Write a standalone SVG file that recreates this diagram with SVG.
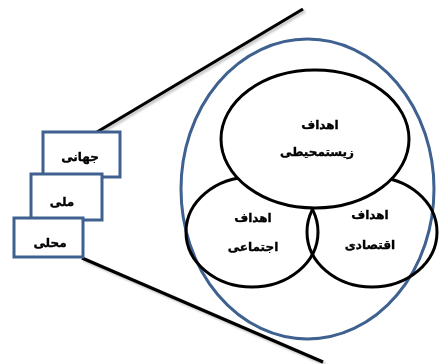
<svg xmlns="http://www.w3.org/2000/svg" width="444" height="364" viewBox="0 0 444 364">
<defs>
<style>
.box rect{fill:#fff;stroke:#3e6190;stroke-width:3}
.goal ellipse{fill:none;stroke:#000;stroke-width:3}
.lbl{font-family:"DejaVu Sans",sans-serif;font-weight:bold;font-size:12px;fill:#000;stroke:#000;stroke-width:0.35;text-anchor:middle;direction:rtl}
.conn line{stroke:#000;stroke-width:3.2;stroke-linecap:butt}
.shadow line{stroke:#999;stroke-width:3;opacity:0.6}
</style>
<filter id="blur" x="-10%" y="-10%" width="120%" height="120%"><feGaussianBlur stdDeviation="1.2"/></filter>
</defs>
<rect width="444" height="364" fill="#fff"/>
<g id="connectors">
<g class="shadow" filter="url(#blur)">
<line x1="99" y1="134" x2="305" y2="11"/>
<line x1="84" y1="260" x2="325" y2="364"/>
</g>
<g class="conn">
<line x1="97" y1="132" x2="303" y2="9"/>
<line x1="82" y1="258" x2="323" y2="362"/>
</g>
</g>
<g id="scope-outline">
<ellipse cx="307.5" cy="189" rx="126.5" ry="150" fill="none" stroke="#3e6190" stroke-width="3"/>
</g>
<g id="social" class="goal">
<ellipse cx="252" cy="232" rx="66" ry="55"/>
<text class="lbl" x="253" y="222">اهداف</text>
<text class="lbl" x="253" y="251">اجتماعی</text>
</g>
<g id="economic" class="goal">
<ellipse cx="372" cy="232" rx="65" ry="55"/>
<text class="lbl" x="370" y="219">اهداف</text>
<text class="lbl" x="370" y="249">اقتصادی</text>
</g>
<g id="environmental" class="goal">
<ellipse cx="315" cy="139" rx="94" ry="69" style="fill:#fff"/>
<text class="lbl" x="320" y="129">اهداف</text>
<text class="lbl" x="317" y="156">زیستمحیطی</text>
</g>
<g id="global" class="box">
<rect x="43" y="132" width="77" height="45"/>
<text class="lbl" x="80" y="161">جهانی</text>
</g>
<g id="national" class="box">
<rect x="31" y="174" width="71" height="46"/>
<text class="lbl" x="62" y="206">ملی</text>
</g>
<g id="local" class="box">
<rect x="14" y="218" width="69" height="39"/>
<text class="lbl" x="50" y="247">محلی</text>
</g>
</svg>
